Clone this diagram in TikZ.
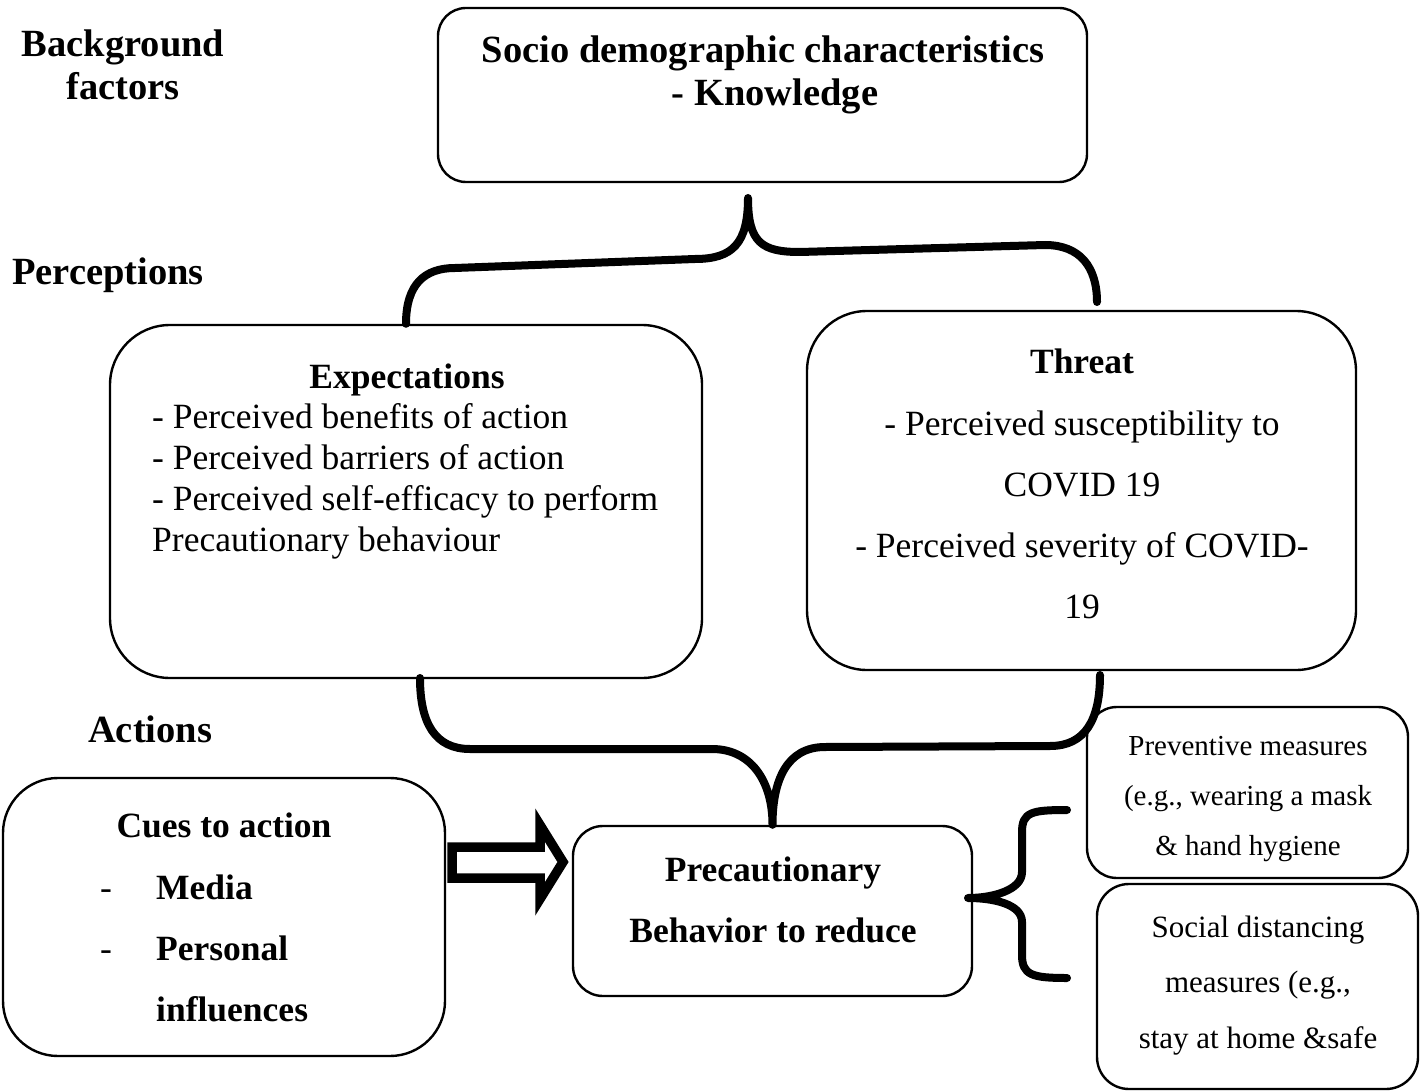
\documentclass[tikz,border=0pt]{standalone}
\usepackage{fontspec}
\setmainfont{Liberation Serif}

\begin{document}
\begin{tikzpicture}[x=1pt, y=-1pt,
    box/.style={draw, line width=2.4pt, rounded corners=#1, inner sep=0pt},
    brace/.style={line width=8pt, line join=round, line cap=round},
    hollow/.style={line width=9.5pt, line join=miter},
    head/.style={font=\fontsize{38.5}{45}\selectfont\bfseries, inner sep=0pt},
    tb/.style={font=\fontsize{35.5}{41}\selectfont\bfseries, inner sep=0pt},
    tx/.style={font=\fontsize{35.5}{41}\selectfont, inner sep=0pt},
    sm/.style={font=\fontsize{29}{35}\selectfont, inner sep=0pt},
    md/.style={font=\fontsize{31}{37}\selectfont, inner sep=0pt}]
\useasboundingbox (0,0) rectangle (1424,1091);

% levels
\node[head, anchor=base] (bg1) at (123,57) {Background};
\node[head, anchor=base] (bg2) at (123,100) {factors};
\node[head, anchor=base west] (perc) at (12,284) {Perceptions};
\node[head, anchor=base west] (act) at (88,742) {Actions};

% boxes
\node[box=28, minimum width=649, minimum height=174] (soc) at (762.5,95) {};
\node[box=60, minimum width=592, minimum height=353] (exp) at (406,501.5) {};
\node[box=60, minimum width=549, minimum height=359] (thr) at (1081.5,490.5) {};
\node[box=55, minimum width=442, minimum height=278] (cues) at (224,917) {};
\node[box=30, minimum width=399, minimum height=170] (pre) at (772.5,911) {};
\node[box=30, minimum width=321, minimum height=171] (prev) at (1247.5,792.5) {};
\node[box=32, minimum width=321, minimum height=205] (dist) at (1257.5,986.5) {};

\node[head, anchor=base] (soc-1) at (763,63) {Socio demographic characteristics};
\node[head, anchor=base] (soc-2) at (775,106) {- Knowledge};

\node[tb, anchor=base] (exp-t) at (407,388) {Expectations};
\foreach \t [count=\i] in {- Perceived benefits of action, - Perceived barriers of action,
    - Perceived self-efficacy to perform, Precautionary behaviour}
  \node[tx, anchor=base west] (exp-\i) at (152,{428+41*(\i-1)}) {\t};

\node[tb, anchor=base] (thr-t) at (1082,373) {Threat};
\foreach \t [count=\i] in {- Perceived susceptibility to, COVID 19,
    - Perceived severity of COVID-, 19}
  \node[tx, anchor=base] (thr-\i) at (1082,{435+61*(\i-1)}) {\t};

\node[tb, anchor=base] (cues-t) at (224,837) {Cues to action};
\node[tx, anchor=base west] (cues-d1) at (100,899) {-};
\node[tx, anchor=base west] (cues-d2) at (100,960) {-};
\node[tb, anchor=base west] (cues-1) at (156,899) {Media};
\node[tb, anchor=base west] (cues-2) at (156,960) {Personal};
\node[tb, anchor=base west] (cues-3) at (156,1021) {influences};

\node[tb, anchor=base] (pre-1) at (773,881) {Precautionary};
\node[tb, anchor=base] (pre-2) at (773,942) {Behavior to reduce};

\foreach \t [count=\i] in {Preventive measures, {(e.g., wearing a mask}, \& hand hygiene}
  \node[sm, anchor=base] (prev-\i) at (1248,{755+50*(\i-1)}) {\t};
\foreach \t [count=\i] in {Social distancing, {measures (e.g.,}, stay at home \&safe}
  \node[md, anchor=base] (dist-\i) at (1258,{937+55.5*(\i-1)}) {\t};

% braces
\draw[brace] (exp.north) .. controls +(0,-40) and +(-30,0) .. (455,268) -- (695,259)
  .. controls +(38,0) and +(0,45) .. (748,198)
  .. controls +(0,45) and +(-38,0) .. (800,252) -- (1045,245)
  .. controls +(35,0) and +(0,-35) .. (1097,302);
\draw[brace] (420,678) .. controls +(0,45) and +(-35,0) .. (470,749) -- (712,749)
  .. controls +(38,0) and +(0,-45) .. (pre.north)
  .. controls +(0,-45) and +(-38,0) .. (825,747) -- (1050,746)
  .. controls +(35,0) and +(0,45) .. (1100,675);
\draw[brace] (1067,810) .. controls +(-35,0) and +(0,-20) .. (1022,832) -- (1022,872)
  .. controls +(0,18) and +(25,0) .. (968,898)
  .. controls +(25,0) and +(0,-18) .. (1022,922) -- (1022,955)
  .. controls +(0,20) and +(-35,0) .. (1067,978);

% cues -> behaviour
\draw[hollow] (452,847) -- (540,847) -- (540,825) -- (563,862) -- (540,899)
  -- (540,878) -- (452,878) -- cycle;
\end{tikzpicture}
\end{document}
